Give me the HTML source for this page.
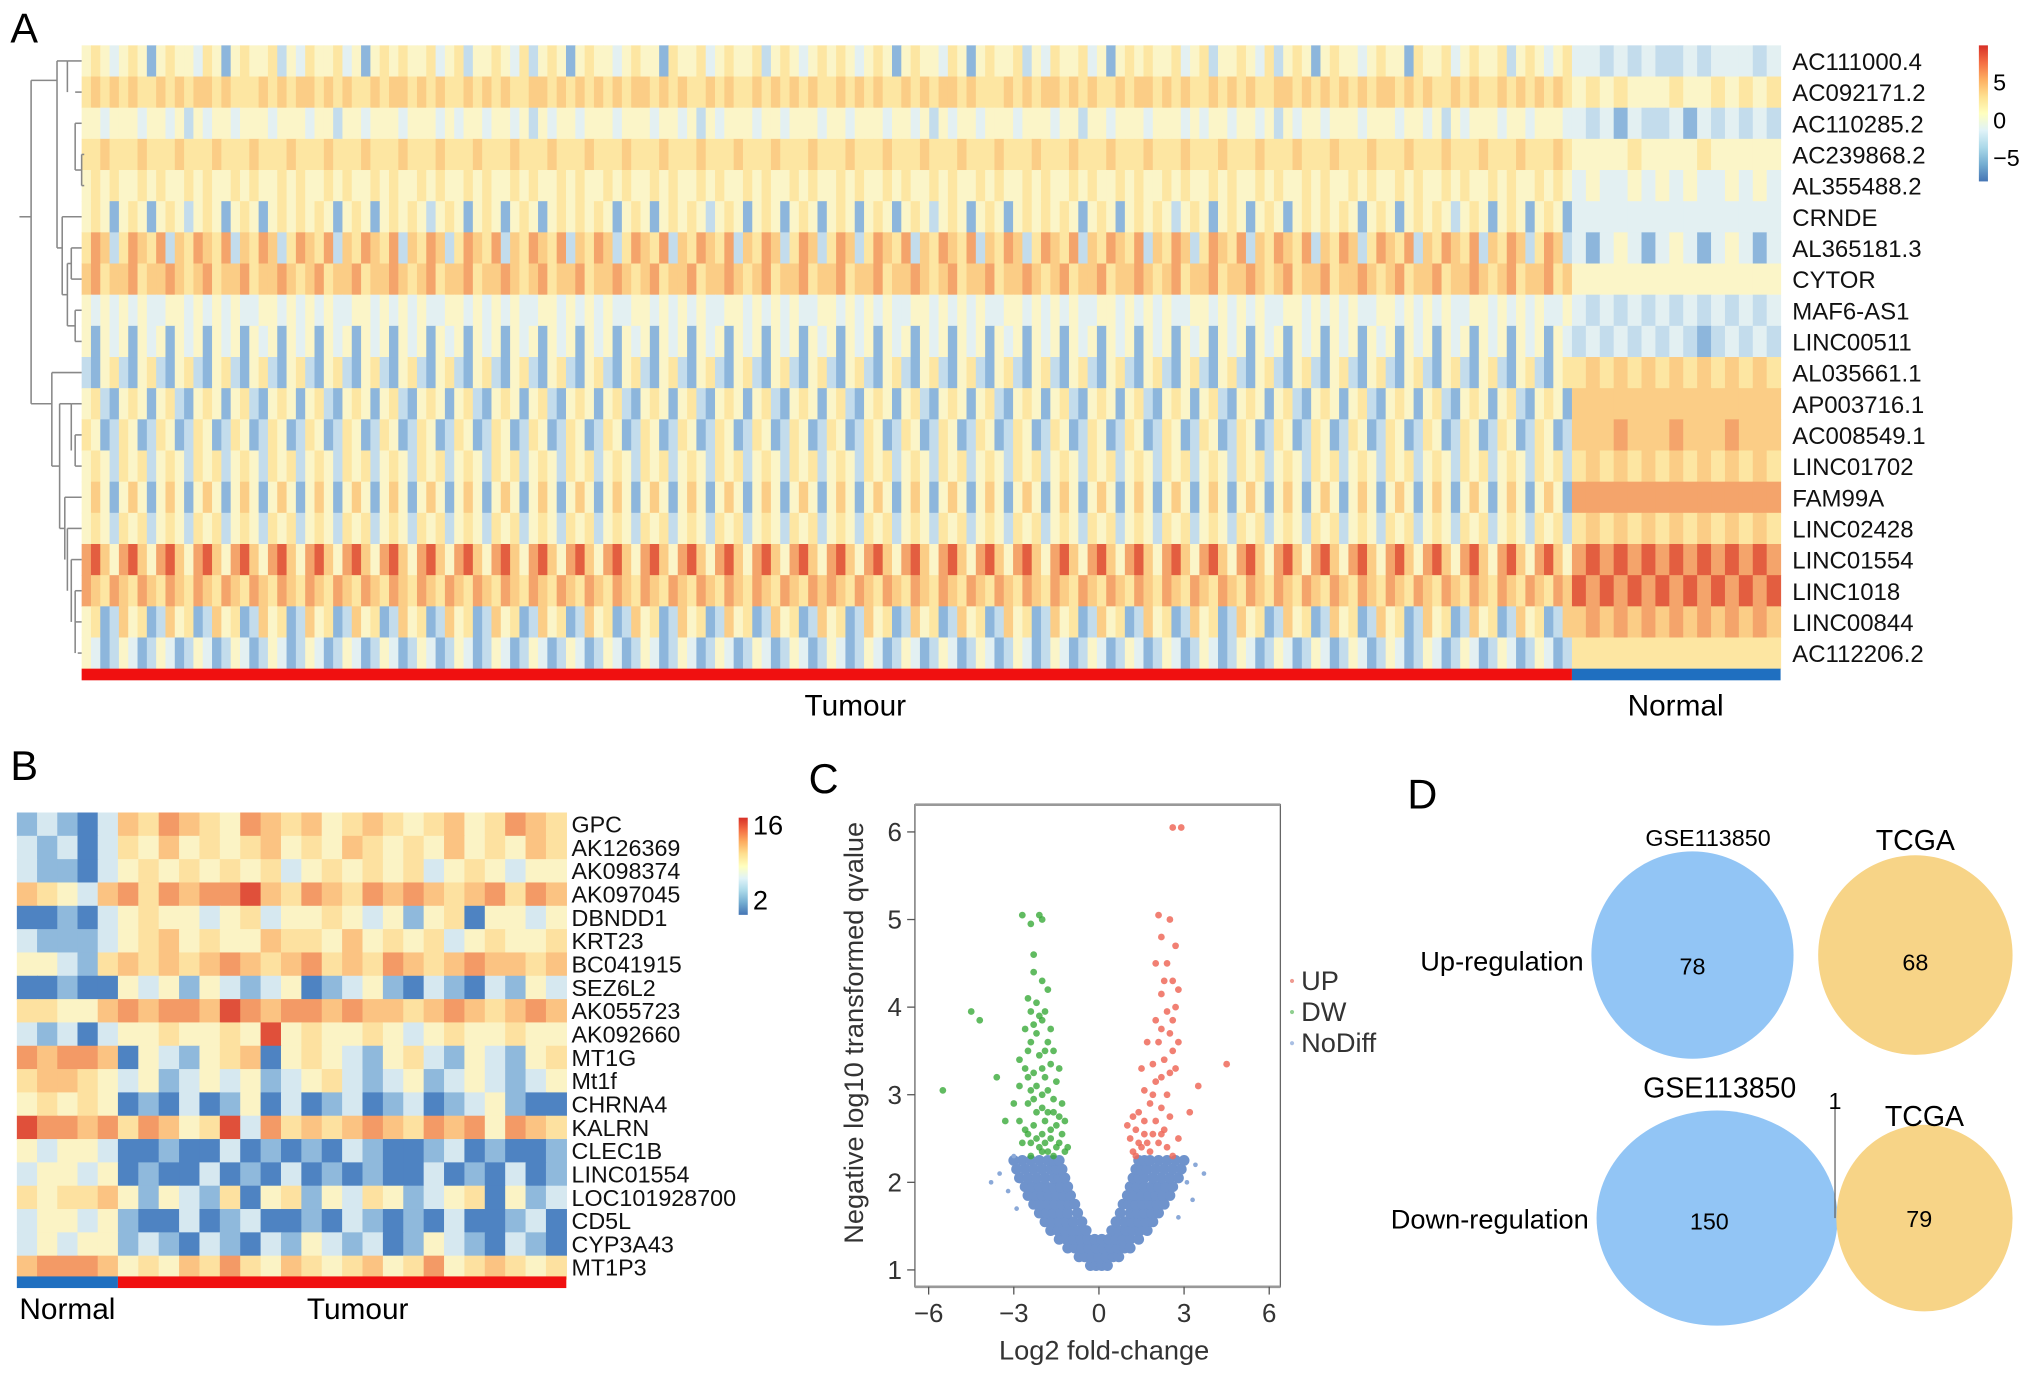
<!DOCTYPE html>
<html><head><meta charset="utf-8"><style>
html,body{margin:0;padding:0;background:#fff;}
svg{display:block;font-family:"Liberation Sans",sans-serif;}
</style></head><body>
<svg id="fig" width="2032" height="1378" viewBox="0 0 1568 1063.4" preserveAspectRatio="none" xmlns="http://www.w3.org/2000/svg">
<rect width="1568" height="1064" fill="#fff"/>
<g id="panelA"></g>
<g id="panelB"></g>
<g id="panelC"></g>
<g id="panelD"></g>
</svg>
<script>
// ===== Panel A data =====
const genesA = ["AC111000.4","AC092171.2","AC110285.2","AC239868.2","AL355488.2","CRNDE","AL365181.3","CYTOR","MAF6-AS1","LINC00511","AL035661.1","AP003716.1","AC008549.1","LINC01702","FAM99A","LINC02428","LINC01554","LINC1018","LINC00844","AC112206.2"];
const tumourA = [
"4543454145443541454452435445341454544534524454352454145443454415445345445245434545434541454435414544524354453414545445345244543524541454434544154453454452454345",
"5656565565656656555656566565655656656565565656556656565656566565655656556565656556565655656566565556565665656556566565655656565566565656565665656556565565656565",
"4434443443424344344434443442443444344434344344342434434443444344342434443443444344344434434243443444344434424434443444343443443424344344434443443424344434434443",
"5565556555655565556555655565556555655565556555655565556555655565556555655565556555655565556555655565556555655565556555655565556555655565556555655565556555655565",
"4545445454454544545445454454544545445454454544545445454454544545445454454544545445454454544545445454454544545445454454544545445454454544545445454454544545445454",
"4541454145424541454145454541454145454245414541454145454541454145454245414541454145414541454245414541454545414541454542454145414541454545414541454542454145414541",
"5762576572657657265762576572657657265762576572657657265762576572657657265762576257625765726576572657625765726576572657625765726576572657625765726576572657625762",
"6756675667656756675667656756675667656756675667656756675667656756675667656756675667566756676567566756676567566756676567566756676567566756676567566756676567566756",
"4343434334434343433443434343344343434334434343433443434343344343434334434343433443434343344343434334434343433443434343344343434334434343433443434343344343434334",
"4143414341434143414341434143414341434143414341434143414341434143414341434143414341434143414341434143414341434143414341434143414341434143414341434143414341434143",
"2145214521452145214521452145214521452145214521452145214521452145214521452145214521452145214521452145214521452145214521452145214521452145214521452145214521452145",
"4521454145214541452145414521454145214541452145414521454145214541452145414521454145214541452145414521454145214541452145414521454145214541452145414521454145214541",
"5412541254125412541254125412541254125412541254125412541254125412541254125412541254125412541254125412541254125412541254125412541254125412541254125412541254125412",
"4542545245425452454254524542545245425452454254524542545245425452454254524542545245425452454254524542545245425452454254524542545245425452454254524542545245425452",
"4641464146414641464146414641464146414641464146414641464146414641464146414641464146414641464146414641464146414641464146414641464146414641464146414641464146414641",
"4542545245425452454254524542545245425452454254524542545245425452454254524542545245425452454254524542545245425452454254524542545245425452454254524542545245425452",
"7864786478647864786478647864786478647864786478647864786478647864786478647864786478647864786478647864786478647864786478647864786478647864786478647864786478647864",
"7657657657657657657657657657657657657657657657657657657657657657657657657657657676576576576576576576576576576576576576576576576576576576576576576576576576576576",
"4512645126451264512645126451264512645126451264512645126451264512645126451264512645126451264512645126451264512645126451264512645126451264512645126451264512645126",
"4312431243124312431243124312431243124312431243124312431243124312431243124312431243124312431243124312431243124312431243124312431243124312431243124312431243124312"];
const normalA = ["332323223233323","454544454454545","323132231323232","444454444544444","343343434334343","333333333333333","313431343134313","444444444444444","323232323232323","232323232123232","565656565656565","666666666666666","666766676667666","565656565656565","777777777777777","565656565656565","787878787878787","878787878787878","676767676767676","555555555555555"];
const colorbarTicksA = ["5","0","\u22125"];

// ===== Panel B data =====
const genesB = ["GPC","AK126369","AK098374","AK097045","DBNDD1","KRT23","BC041915","SEZ6L2","AK055723","AK092660","MT1G","Mt1f","CHRNA4","KALRN","CLEC1B","LINC01554","LOC101928700","CD5L","CYP3A43","MT1P3"];
const normalB = ["23213","32313","32213","65436","11213","32223","44325","11211","55446","32313","76776","56654","45454","87767","43443","34434","54556","34434","34344","67776"];
const tumourB = [
"6576547656456545645765","5464545645465454645465","4545454534545453454344","7576778657657676567576","4544345344543424514434","4564544655464545345445","6565676567565765676656","4342432341234213213243","7677687677676656765676","4454454845445434544544",
"1432456145432453243245","3423434234532342343234","1213124131231231234211","5764583756567657674765","1121131212132112312112","1211312131212113121312","4243251452435423451423","2113123112132121311231","2321321324323124321321","4546575465456457456545"];
const colorbarTicksB = ["16","2"];

// ===== Panel C data =====
const xTicksC = [-6,-3,0,3,6];
const yTicksC = [1,2,3,4,5,6];
const blueLevels = [1.05,1.15,1.25,1.35,1.45,1.55,1.65,1.75,1.85,1.95,2.05,2.15,2.25];
const blueXs = [
[-0.3,-0.1,0.1,0.3],
[-0.7,-0.5,-0.25,0,0.25,0.5,0.7],
[-1.1,-0.85,-0.6,-0.35,-0.1,0.15,0.4,0.65,0.9,1.1],
[-1.4,-1.15,-0.9,-0.65,-0.4,-0.15,0.1,0.35,0.6,0.85,1.1,1.4],
[-1.7,-1.45,-1.2,-0.95,-0.7,-0.45,0.45,0.7,0.95,1.2,1.45,1.7],
[-1.9,-1.65,-1.4,-1.15,-0.9,-0.6,0.6,0.9,1.15,1.4,1.65,1.9],
[-2.1,-1.85,-1.6,-1.35,-1.1,-0.75,0.75,1.1,1.35,1.6,1.85,2.1],
[-2.3,-2.05,-1.8,-1.55,-1.3,-1.05,-0.85,0.85,1.05,1.3,1.55,1.8,2.05,2.3],
[-2.5,-2.25,-2.0,-1.75,-1.5,-1.25,-1.0,1.0,1.25,1.5,1.75,2.0,2.25,2.5],
[-2.6,-2.35,-2.1,-1.85,-1.6,-1.35,-1.1,1.1,1.35,1.6,1.85,2.1,2.35,2.6],
[-2.8,-2.5,-2.2,-1.9,-1.6,-1.4,-1.2,1.2,1.4,1.6,1.9,2.2,2.5,2.8],
[-2.9,-2.6,-2.3,-2.0,-1.7,-1.5,-1.3,1.3,1.5,1.7,2.0,2.3,2.6,2.9],
[-3.0,-2.7,-2.4,-2.1,-1.8,-1.6,-1.4,1.4,1.6,1.8,2.1,2.4,2.7,3.0]];
const blueOutliers = [[-3.2,1.9],[-3.5,2.1],[-2.9,1.7],[3.1,2.0],[3.4,2.2],[2.8,1.6],[-3.0,2.3],[3.3,1.8],[-3.8,2.0],[3.7,2.1]];
const greenPts = [[-1.2,2.35],[-1.5,2.4],[-1.8,2.35],[-2.1,2.4],[-2.4,2.45],[-1.3,2.55],[-1.7,2.6],[-2.0,2.55],[-2.3,2.65],[-2.6,2.6],[-1.4,2.75],[-1.8,2.8],[-2.2,2.8],[-2.5,2.9],[-1.6,2.95],[-2.0,3.0],[-2.4,3.05],[-2.8,3.1],[-1.5,3.15],[-1.9,3.2],[-2.3,3.25],[-1.7,3.35],[-2.1,3.45],[-2.5,3.5],[-1.8,3.6],[-2.2,3.7],[-2.6,3.75],[-2.0,3.85],[-2.4,3.95],[-2.2,4.05],[-4.5,3.95],[-4.2,3.85],[-3.6,3.2],[-3.3,2.7],[-5.5,3.05],[-3.0,2.9],[-2.3,4.6],[-2.0,5.0],[-2.4,4.95],[-2.7,5.05],[-2.1,5.05],[-1.7,2.5],[-1.1,2.4],[-2.7,2.45],[-1.3,2.9],[-2.8,3.4],[-1.9,2.7],[-2.2,3.1],[-1.6,3.5],[-2.4,2.3],[-1.5,2.65],[-2.0,2.35],[-2.5,3.2],[-1.9,3.95],
[-1.4,2.45],[-1.6,2.3],[-1.9,2.45],[-2.2,2.5],[-2.5,2.55],[-2.8,2.7],[-1.2,2.7],[-1.6,2.8],[-2.0,2.85],[-2.3,2.95],[-1.8,3.05],[-2.6,3.3],[-1.4,3.3],[-2.0,3.3],[-2.4,3.6],[-1.9,3.5],[-2.3,3.8],[-1.7,3.75],[-2.1,3.9],[-2.5,4.1],[-2.0,4.3],[-2.3,4.4],[-1.8,4.2]];
const redPts = [[1.2,2.35],[1.5,2.4],[1.8,2.35],[2.1,2.45],[2.4,2.4],[1.3,2.6],[1.6,2.55],[1.0,2.65],[2.0,2.7],[2.3,2.6],[1.4,2.8],[1.8,2.9],[2.2,2.85],[1.6,3.05],[2.0,3.15],[2.4,3.0],[1.9,3.35],[2.3,3.4],[2.7,3.3],[2.1,3.6],[2.5,3.7],[2.0,3.85],[2.4,3.95],[2.7,4.0],[2.2,4.15],[2.6,4.3],[2.4,4.5],[2.2,4.8],[2.5,5.0],[2.1,5.05],[2.6,6.05],[2.9,6.05],[4.5,3.35],[3.5,3.1],[3.2,2.8],[1.1,2.5],[2.8,2.5],[2.6,2.3],[1.7,3.6],[2.6,3.5],[1.4,2.45],[1.9,2.55],
[1.3,2.3],[1.7,2.45],[2.2,2.55],[1.2,2.75],[1.6,2.7],[2.5,2.75],[1.9,3.0],[2.2,3.2],[1.5,3.3],[2.5,3.25],[2.8,3.6],[2.2,3.75],[2.6,3.85],[2.3,4.3],[2.8,4.2],[2.0,4.5],[2.7,4.7]];
const legendC = ["UP","DW","NoDiff"];

// ===== Panel D data =====
const vennUp = {left:78, right:68};
const vennDown = {left:150, right:79, overlap:1};

const NS="http://www.w3.org/2000/svg";
function mk(parent, tag, attrs, text){
  const e=document.createElementNS(NS,tag);
  for(const k in attrs) e.setAttribute(k,attrs[k]);
  if(text!==undefined) e.textContent=text;
  parent.appendChild(e); return e;
}
const palA=["#3b6fb6","#8db6dc","#c3dcec","#e3f0f2","#fbf5c8","#fde6a2","#fbcd86","#f4a46b","#e35e40"];
const palB=["#3a6db4","#4e83c2","#8fb9dc","#d6e8f0","#fbf3c5","#fde1a0","#fbc382","#f39a66","#e0503a"];

// ----- Panel A -----
(function(){
  const g=document.getElementById('panelA');
  let t=mk(g,'text',{x:8,y:33,'font-size':32},'A');
   
  const x0=63,xSplit=1213,x1=1374,y0=35,y1=516;
  const rh=(y1-y0)/genesA.length;
  genesA.forEach((gname,r)=>{
    const y=y0+r*rh;
    const ts=tumourA[r], ns=normalA[r];
    const tw=(xSplit-x0)/ts.length, nw=(x1-xSplit)/ns.length;
    for(let i=0;i<ts.length;i++){
      const c=mk(g,'rect',{x:x0+i*tw,y:y,width:tw+0.4,height:rh+0.5,fill:palA[+ts[i]]});
       
    }
    for(let i=0;i<ns.length;i++){
      const c=mk(g,'rect',{x:xSplit+i*nw,y:y,width:nw+0.4,height:rh+0.5,fill:palA[+ns[i]]});
       
    }
    const l=mk(g,'text',{x:1383,y:y+rh/2+7,'font-size':18.5,fill:'#111'},gname);
     
  });
  let b=mk(g,'rect',{x:x0,y:516,width:xSplit-x0,height:9,fill:'#f01010'});
   
  b=mk(g,'rect',{x:xSplit,y:516,width:x1-xSplit,height:9,fill:'#1f6fc0'});
   
  t=mk(g,'text',{x:660,y:552,'font-size':23,'text-anchor':'middle'},'Tumour');
   
  t=mk(g,'text',{x:1293,y:552,'font-size':23,'text-anchor':'middle'},'Normal');
   
  const dg=mk(g,'g',{stroke:'#888',fill:'none','stroke-width':1.2});
   
  const rc=i=>y0+(i+0.5)*rh;
  const segs=[
   [52,rc(0),63,rc(0)],[58,rc(1),63,rc(1)],[58,rc(2),63,rc(2)],[65,rc(3),63,rc(3)],[65,rc(4),63,rc(4)],
   [63,rc(3),63,rc(4)],[58,rc(2),58,(rc(3)+rc(4))/2],[58,(rc(3)+rc(4))/2,63,(rc(3)+rc(4))/2],
   [52,rc(1),52,rc(0)],
   [48,rc(5),63,rc(5)],[55,rc(6),63,rc(6)],[55,rc(7),63,rc(7)],[55,rc(6),55,rc(7)],
   [58,rc(8),63,rc(8)],[58,rc(9),63,rc(9)],[58,rc(8),58,rc(9)],
   [52,(rc(6)+rc(7))/2,55,(rc(6)+rc(7))/2],[52,(rc(8)+rc(9))/2,58,(rc(8)+rc(9))/2],[52,(rc(6)+rc(7))/2,52,(rc(8)+rc(9))/2],
   [48,rc(5),48,(rc(7)+rc(8))/2],[48,(rc(7)+rc(8))/2,52,(rc(7)+rc(8))/2],
   [44,rc(0),52,rc(0)],[44,rc(0),44,(rc(5)+rc(7))/2],[44,(rc(5)+rc(7))/2,48,(rc(5)+rc(7))/2],
   [24,rc(0)+15,44,rc(0)+15],
   [40,rc(10),63,rc(10)],[55,rc(11),63,rc(11)],[58,rc(12),63,rc(12)],[58,rc(13),63,rc(13)],[58,rc(12),58,rc(13)],[55,rc(11),55,(rc(12)+rc(13))/2],
   [50,rc(14),63,rc(14)],[52,rc(15),63,rc(15)],[55,rc(16),63,rc(16)],[58,rc(17),63,rc(17)],[58,rc(18),63,rc(18)],[60,rc(19),63,rc(19)],
   [58,rc(17),58,rc(19)],[55,rc(16),55,rc(18)],[52,rc(15),52,rc(17)],[50,rc(14),50,rc(16)],
   [46,rc(11),55,rc(11)],[46,rc(11),46,rc(15)],[46,rc(15),50,rc(15)],[40,rc(10),40,rc(13)],[40,rc(13),46,rc(13)],
   [24,rc(11),40,rc(11)],[24,rc(0)+15,24,rc(11)],[15,rc(5),24,rc(5)]
  ];
  segs.forEach(s=>mk(dg,'line',{x1:s[0],y1:s[1],x2:s[2],y2:s[3]}));
  const defs=mk(g,'defs',{});
  const lg=mk(defs,'linearGradient',{id:'gA',x1:0,y1:0,x2:0,y2:1});
  ["#d73027","#f46d43","#fdae61","#fee090","#ffffbf","#e0f3f8","#abd9e9","#74add1","#4575b4"].forEach((c,i)=>mk(lg,'stop',{offset:(i/8),'stop-color':c}));
  const cb=mk(g,'rect',{x:1527,y:35,width:7,height:105,fill:'url(#gA)'});
   
  colorbarTicksA.forEach((s,i)=>{
    const tt=mk(g,'text',{x:1538,y:70+i*29,'font-size':18},s);
     
  });
})();

// ----- Panel B -----
(function(){
  const g=document.getElementById('panelB');
  let t=mk(g,'text',{x:8,y:602,'font-size':32},'B');
   
  const x0=13,xs=91,x1=437,y0=627,y1=987;
  const rh=(y1-y0)/genesB.length;
  genesB.forEach((gn,r)=>{
    const y=y0+r*rh;
    const ns=normalB[r], ts=tumourB[r];
    const nw=(xs-x0)/ns.length, tw=(x1-xs)/ts.length;
    for(let i=0;i<ns.length;i++){
      const c=mk(g,'rect',{x:x0+i*nw,y:y,width:nw+0.5,height:rh+0.5,fill:palB[+ns[i]]});
       
    }
    for(let i=0;i<ts.length;i++){
      const c=mk(g,'rect',{x:xs+i*tw,y:y,width:tw+0.5,height:rh+0.5,fill:palB[+ts[i]]});
       
    }
    const l=mk(g,'text',{x:441,y:y+rh/2+6.5,'font-size':18,fill:'#111'},gn);
     
  });
  let b=mk(g,'rect',{x:x0,y:985,width:xs-x0,height:9,fill:'#1f6fc0'});
   
  b=mk(g,'rect',{x:xs,y:985,width:x1-xs,height:9,fill:'#f01010'});
   
  t=mk(g,'text',{x:52,y:1018,'font-size':23,'text-anchor':'middle'},'Normal');
   
  t=mk(g,'text',{x:276,y:1018,'font-size':23,'text-anchor':'middle'},'Tumour');
   
  const defs=mk(g,'defs',{});
  const lg=mk(defs,'linearGradient',{id:'gB',x1:0,y1:0,x2:0,y2:1});
  ["#d73027","#f46d43","#fdae61","#fee090","#ffffbf","#e0f3f8","#abd9e9","#74add1","#4575b4"].forEach((c,i)=>mk(lg,'stop',{offset:(i/8),'stop-color':c}));
  const cb=mk(g,'rect',{x:570,y:631,width:7,height:75,fill:'url(#gB)'});
   
  colorbarTicksB.forEach((s,i)=>{
    const tt=mk(g,'text',{x:581,y:644+i*58,'font-size':21},s);
     
  });
})();

// ----- Panel C -----
(function(){
  const g=document.getElementById('panelC');
  let t=mk(g,'text',{x:624,y:612,'font-size':32},'C');
   
  const X=v=>848+v*21.9, Y=v=>980-(v-1)*67.6;
  const box=mk(g,'rect',{x:706,y:621,width:282,height:372,fill:'none',stroke:'#666','stroke-width':1});
   
  mk(g,'line',{x1:706,y1:621,x2:988,y2:621,stroke:'#999','stroke-width':2});
  mk(g,'line',{x1:706,y1:993,x2:988,y2:993,stroke:'#999','stroke-width':2});
  xTicksC.forEach(v=>{
    mk(g,'line',{x1:X(v),y1:993,x2:X(v),y2:999,stroke:'#555'});
    const tt=mk(g,'text',{x:X(v),y:1020,'font-size':20,'text-anchor':'middle',fill:'#333'},v<0?'\u2212'+(-v):String(v));
     
  });
  yTicksC.forEach(v=>{
    mk(g,'line',{x1:700,y1:Y(v),x2:706,y2:Y(v),stroke:'#555'});
    const tt=mk(g,'text',{x:696,y:Y(v)+7,'font-size':20,'text-anchor':'end',fill:'#333'},String(v));
     
  });
  t=mk(g,'text',{x:852,y:1049,'font-size':21,'text-anchor':'middle',fill:'#333'},'Log2 fold-change');
   
  t=mk(g,'text',{x:0,y:0,'font-size':21,'text-anchor':'middle',fill:'#333',transform:'translate(666,797) rotate(-90)'},'Negative log10 transformed qvalue');
   
  blueLevels.forEach((yv,i)=>{
    blueXs[i].forEach(xv=>{
      const c=mk(g,'circle',{cx:X(xv),cy:Y(yv),r:4.2,fill:'#6f93cc'});
       
    });
  });
  blueOutliers.forEach(p=>{
    const c=mk(g,'circle',{cx:X(p[0]),cy:Y(p[1]),r:1.8,fill:'#8ba9d8'});
     
  });
  greenPts.forEach(p=>{
    const c=mk(g,'circle',{cx:X(p[0]),cy:Y(p[1]),r:2.6,fill:'#3aaa3a','fill-opacity':0.8});
     
  });
  redPts.forEach(p=>{
    const c=mk(g,'circle',{cx:X(p[0]),cy:Y(p[1]),r:2.6,fill:'#ee6a5a','fill-opacity':0.85});
     
  });
  const lc=['#ee9a90','#8fcf8f','#a9bfe3'];
  legendC.forEach((s,i)=>{
    const yy=757+i*24;
    const c=mk(g,'circle',{cx:997,cy:yy,r:1.6,fill:lc[i]});
     
    const tt=mk(g,'text',{x:1004,y:yy+7,'font-size':21,fill:'#333'},s);
     
  });
})();

// ----- Panel D -----
(function(){
  const g=document.getElementById('panelD');
  let t=mk(g,'text',{x:1086,y:624,'font-size':32},'D');
   
  const blue='#92c5f5', yel='#f7d487';
  let e=mk(g,'ellipse',{cx:1306,cy:737,rx:78,ry:80,fill:blue});
   
  e=mk(g,'ellipse',{cx:1478,cy:737,rx:75,ry:77,fill:yel});
   
  t=mk(g,'text',{x:1318,y:653,'font-size':18,'text-anchor':'middle'},'GSE113850');
   
  t=mk(g,'text',{x:1478,y:656,'font-size':22,'text-anchor':'middle'},'TCGA');
   
  t=mk(g,'text',{x:1306,y:752,'font-size':18,'text-anchor':'middle'},String(vennUp.left));
   
  t=mk(g,'text',{x:1478,y:749,'font-size':18,'text-anchor':'middle'},String(vennUp.right));
   
  t=mk(g,'text',{x:1222,y:749,'font-size':21,'text-anchor':'end'},'Up-regulation');
   
  e=mk(g,'ellipse',{cx:1325,cy:940,rx:93,ry:83,fill:blue});
   
  e=mk(g,'ellipse',{cx:1485,cy:940,rx:68,ry:72,fill:yel});
   
  mk(g,'line',{x1:1416,y1:854,x2:1416,y2:940,stroke:'#666','stroke-width':1});
  t=mk(g,'text',{x:1327,y:847,'font-size':22,'text-anchor':'middle'},'GSE113850');
   
  t=mk(g,'text',{x:1485,y:869,'font-size':22,'text-anchor':'middle'},'TCGA');
   
  t=mk(g,'text',{x:1416,y:856,'font-size':18,'text-anchor':'middle'},String(vennDown.overlap));
   
  t=mk(g,'text',{x:1319,y:949,'font-size':18,'text-anchor':'middle'},String(vennDown.left));
   
  t=mk(g,'text',{x:1481,y:947,'font-size':18,'text-anchor':'middle'},String(vennDown.right));
   
  t=mk(g,'text',{x:1226,y:948,'font-size':21,'text-anchor':'end'},'Down-regulation');
   
})();
</script>
</body></html>
